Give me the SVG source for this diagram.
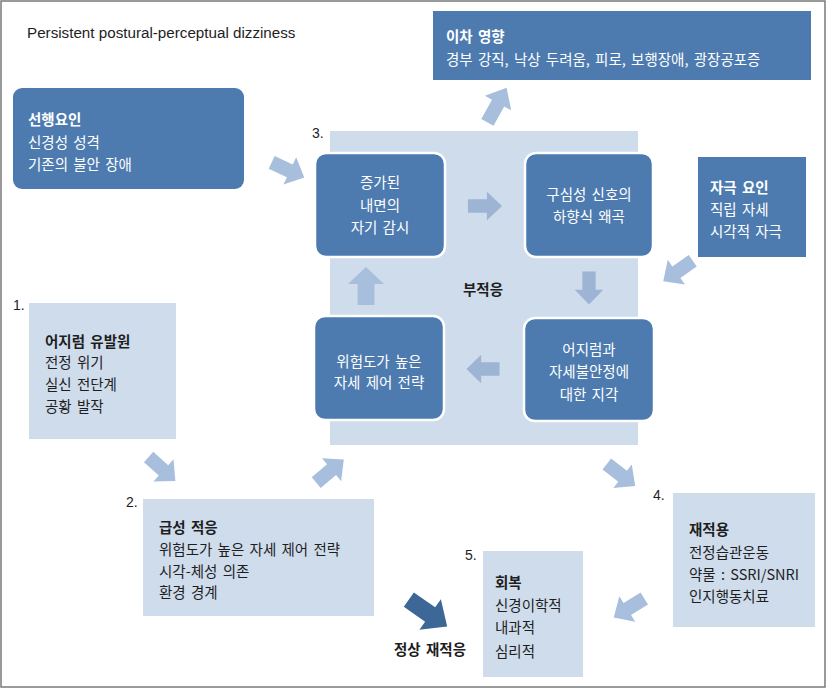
<svg xmlns="http://www.w3.org/2000/svg" xmlns:xlink="http://www.w3.org/1999/xlink" width="827" height="689" viewBox="0 0 827 689">
<style>
.t{font-family:"Noto Sans CJK KR","Liberation Sans",sans-serif;font-size:14.5px;word-spacing:2px}
.w{fill:#ffffff}
.k{fill:#1e1e1e}
.b{font-weight:bold}
.c{text-anchor:middle}
.num{font-family:"Liberation Sans",sans-serif;font-size:14px;fill:#1e1e1e}
.dark{fill:#4d7bb0}
.node{fill:#4d7bb0;stroke:#ffffff;stroke-width:2.5}
.light{fill:#cfdcec}
.arr{fill:#a7bfdd}
.arrIn{fill:#9db4d4}
.arrDark{fill:#3c6796}
</style>
<defs>
<path id="ba" d="M-18,-7 H2 V-15 L18,0 L2,15 V7 H-18 Z"/>
</defs>
<rect x="1" y="1" width="824" height="686" fill="#ffffff" stroke="#7a7a7a" stroke-width="1.5"/>
<text x="27" y="38" font-family="'Liberation Sans',sans-serif" font-size="15.2" fill="#1e1e1e">Persistent postural-perceptual dizziness</text>

<g id="panel3">
<rect x="330" y="131" width="308" height="314" class="light"/>
<text x="483" y="295" class="t k b c">부적응</text>
<text x="312" y="138" class="num">3.</text>
</g>

<g id="connectors">
<use xlink:href="#ba" class="arr" transform="translate(288,170) rotate(25)"/>
<use xlink:href="#ba" class="arr" transform="translate(497,105) rotate(-61) scale(1.1,1)"/>
<use xlink:href="#ba" class="arrIn" transform="translate(485,206) scale(0.95,0.95)"/>
<use xlink:href="#ba" class="arrIn" transform="translate(589,288) rotate(90) scale(0.92,0.95)"/>
<use xlink:href="#ba" class="arrIn" transform="translate(483,369) rotate(180) scale(0.92,0.95)"/>
<use xlink:href="#ba" class="arr" transform="translate(366,286) rotate(-90) scale(1.05,1.2)"/>
<use xlink:href="#ba" class="arr" transform="translate(678,271) rotate(145)"/>
<use xlink:href="#ba" class="arr" transform="translate(162,469) rotate(42)"/>
<use xlink:href="#ba" class="arr" transform="translate(330,471) rotate(-40)"/>
<use xlink:href="#ba" class="arr" transform="translate(621,475) rotate(38)"/>
<use xlink:href="#ba" class="arr" transform="translate(629,608) rotate(148)"/>
<use xlink:href="#ba" class="arrDark" transform="translate(428,613) rotate(35) scale(1.3,1.25)"/>
</g>

<g id="predisposing">
<rect x="13" y="88" width="231" height="101" rx="9" class="dark"/>
<text x="28" y="125" class="t w b">선행요인</text>
<text x="28" y="148" class="t w">신경성 성격</text>
<text x="28" y="170" class="t w">기존의 불안 장애</text>
</g>

<g id="secondary">
<rect x="433" y="11" width="378" height="69" class="dark"/>
<text x="446" y="42" class="t w b">이차 영향</text>
<text x="446" y="65" class="t w">경부 강직, 낙상 두려움, 피로, 보행장애, 광장공포증</text>
</g>

<g id="stimulus">
<rect x="698" y="157" width="108" height="100" class="dark"/>
<text x="710" y="193" class="t w b">자극 요인</text>
<text x="710" y="215" class="t w">직립 자세</text>
<text x="710" y="237" class="t w">시각적 자극</text>
</g>

<g id="selfmonitor">
<rect x="315" y="153" width="130" height="104" rx="11" class="node"/>
<text x="380" y="188" class="t w c">증가된</text>
<text x="380" y="211" class="t w c">내면의</text>
<text x="380" y="233" class="t w c">자기 감시</text>
</g>

<g id="afferent">
<rect x="525" y="153" width="128" height="104" rx="11" class="node"/>
<text x="589" y="200" class="t w c">구심성 신호의</text>
<text x="589" y="222" class="t w c">하향식 왜곡</text>
</g>

<g id="highrisk">
<rect x="314" y="316" width="130" height="104" rx="11" class="node"/>
<text x="379" y="367" class="t w c">위험도가 높은</text>
<text x="379" y="388" class="t w c">자세 제어 전략</text>
</g>

<g id="perception">
<rect x="524" y="318" width="130" height="103" rx="11" class="node"/>
<text x="589" y="355" class="t w c">어지럼과</text>
<text x="589" y="377" class="t w c">자세불안정에</text>
<text x="589" y="400" class="t w c">대한 지각</text>
</g>

<g id="trigger">
<text x="13" y="310" class="num">1.</text>
<rect x="29" y="303" width="147" height="136" class="light"/>
<text x="45" y="347" class="t k b">어지럼 유발원</text>
<text x="45" y="368" class="t k">전정 위기</text>
<text x="45" y="390" class="t k">실신 전단계</text>
<text x="45" y="412" class="t k">공황 발작</text>
</g>

<g id="acute">
<text x="126" y="507" class="num">2.</text>
<rect x="143" y="499" width="231" height="117" class="light"/>
<text x="159" y="533" class="t k b">급성 적응</text>
<text x="159" y="555" class="t k">위험도가 높은 자세 제어 전략</text>
<text x="159" y="577" class="t k">시각-체성 의존</text>
<text x="159" y="598" class="t k">환경 경계</text>
</g>

<g id="normal">
<text x="430" y="655" class="t k b c">정상 재적응</text>
</g>

<g id="recovery">
<text x="465" y="560" class="num">5.</text>
<rect x="483" y="551" width="100" height="126" class="light"/>
<text x="495" y="588" class="t k b">회복</text>
<text x="495" y="611" class="t k">신경이학적</text>
<text x="495" y="633" class="t k">내과적</text>
<text x="495" y="657" class="t k">심리적</text>
</g>

<g id="readapt">
<text x="653" y="500" class="num">4.</text>
<rect x="673" y="493" width="142" height="134" class="light"/>
<text x="689" y="535" class="t k b">재적용</text>
<text x="689" y="558" class="t k">전정습관운동</text>
<text x="689" y="580" class="t k">약물 : SSRI/SNRI</text>
<text x="689" y="602" class="t k">인지행동치료</text>
</g>
</svg>
